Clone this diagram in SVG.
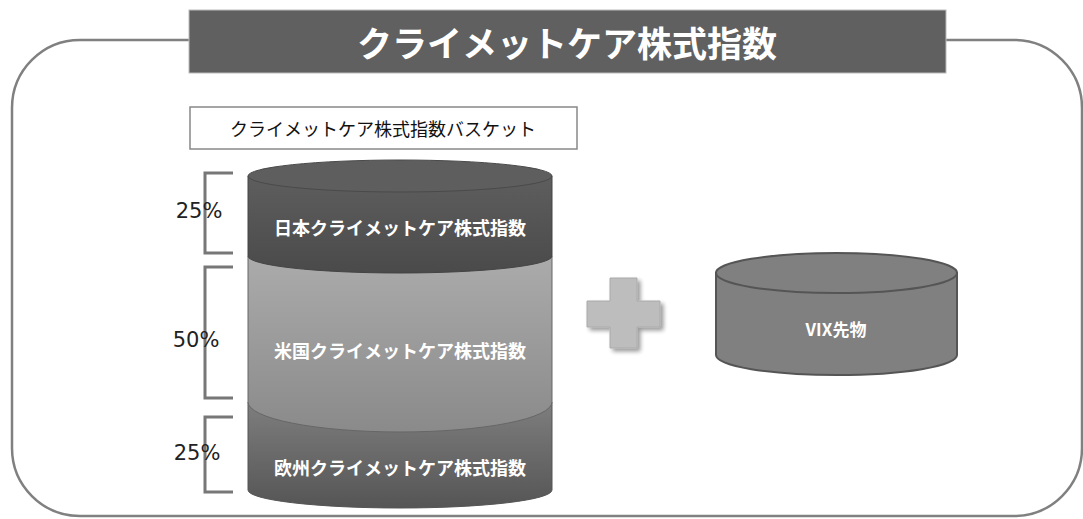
<svg xmlns="http://www.w3.org/2000/svg" width="1083" height="519" viewBox="0 0 1083 519">
<style>
.jp{font-family:"Noto Sans CJK JP","Noto Sans",sans-serif}
.wl{fill:#fff;font-weight:bold;text-anchor:middle;dominant-baseline:central}
.pct{font-family:"DejaVu Sans","Noto Sans",sans-serif;font-size:21px;fill:#222;text-anchor:middle;dominant-baseline:central}
.br{fill:none;stroke:#777;stroke-width:3}
</style>
<defs>
<linearGradient id="gTop" x1="0" y1="0" x2="0" y2="1"><stop offset="0" stop-color="#5e5e5e"/><stop offset="1" stop-color="#4a4a4a"/></linearGradient>
<linearGradient id="gMid" x1="0" y1="0" x2="0" y2="1"><stop offset="0" stop-color="#ababab"/><stop offset="1" stop-color="#8a8a8a"/></linearGradient>
<linearGradient id="gBot" x1="0" y1="0" x2="0" y2="1"><stop offset="0" stop-color="#7e7e7e"/><stop offset="1" stop-color="#555"/></linearGradient>
<filter id="sh" x="-20%" y="-20%" width="150%" height="150%"><feGaussianBlur in="SourceAlpha" stdDeviation="2"/><feOffset dx="3" dy="3"/><feComponentTransfer><feFuncA type="linear" slope="0.4"/></feComponentTransfer><feMerge><feMergeNode/><feMergeNode in="SourceGraphic"/></feMerge></filter>
</defs>
<g id="frame">
<rect x="12" y="40" width="1070" height="476" rx="68" ry="68" fill="#fff" stroke="#808080" stroke-width="2.5"/>
</g>
<g id="title">
<rect x="189" y="10" width="757" height="63" fill="#606060" stroke="#bbb" stroke-width="1"/>
<text class="jp wl" x="567" y="41" font-size="35">クライメットケア株式指数</text>
</g>
<g id="basket-label">
<rect x="190" y="107" width="387" height="42" fill="#fff" stroke="#888" stroke-width="1.5"/>
<text class="jp" x="383" y="128" font-size="18" fill="#111" text-anchor="middle" dominant-baseline="central">クライメットケア株式指数バスケット</text>
</g>
<g id="brackets">
<path class="br" d="M233,173 H205 V253 H233"/>
<path class="br" d="M233,267 H205 V398 H233"/>
<path class="br" d="M233,417 H205 V492 H233"/>
<text class="pct" x="199" y="211">25%</text>
<text class="pct" x="196" y="340">50%</text>
<text class="pct" x="197" y="453">25%</text>
</g>
<g id="europe">
<path d="M248,402 V490 A152,18 0 0 0 552,490 V402 Z" fill="url(#gBot)" stroke="#555" stroke-width="1"/>
<text class="jp wl" x="400" y="467" font-size="18">欧州クライメットケア株式指数</text>
</g>
<g id="us">
<path d="M248,256 V402 A152,30 0 0 0 552,402 V256 Z" fill="url(#gMid)" stroke="#666" stroke-width="1"/>
<text class="jp wl" x="400" y="350" font-size="18">米国クライメットケア株式指数</text>
</g>
<g id="japan">
<path d="M248,176 V256 A152,17 0 0 0 552,256 V176 Z" fill="url(#gTop)" stroke="#444" stroke-width="1"/>
<ellipse cx="400" cy="176" rx="152" ry="16" fill="#5e5e5e" stroke="#4a4a4a" stroke-width="1"/>
<text class="jp wl" x="400" y="227" font-size="18">日本クライメットケア株式指数</text>
</g>
<g id="plus">
<path d="M610,278 H637 V301 H660 V327 H637 V348 H610 V327 H587 V301 H610 Z" fill="#bdbdbd" stroke="#aaa" stroke-width="1" filter="url(#sh)"/>
</g>
<g id="vix">
<path d="M716,273 V355 A120.5,20 0 0 0 957,355 V273 Z" fill="#808080" stroke="#555" stroke-width="2"/>
<ellipse cx="836.5" cy="273" rx="120.5" ry="20" fill="#808080" stroke="#555" stroke-width="2"/>
<text class="jp wl" x="836" y="328" font-size="17">VIX先物</text>
</g>
<g id="connectors"/>
</svg>
